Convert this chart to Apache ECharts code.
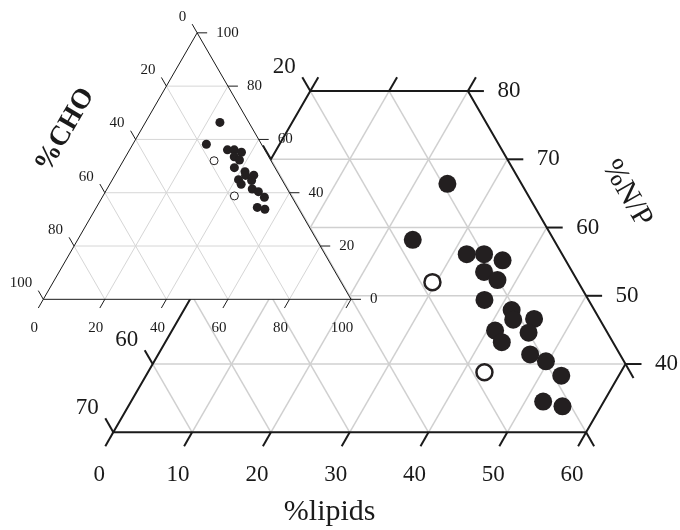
<!DOCTYPE html>
<html><head><meta charset="utf-8">
<script src="https://cdn.jsdelivr.net/npm/echarts@6/dist/echarts.min.js"></script>
<style>html,body{margin:0;padding:0;background:#fff}#c{width:680px;height:530px}</style>
</head><body><div id="c"></div>
<script>
// ---- Data: composition (%) of each sample ----
const filledLipids = [24.2, 23.9, 31.8, 34.0, 36.8, 35.3, 37.6, 37.4, 41.6, 42.5, 45.1, 41.0, 42.7, 45.4, 47.2, 49.7, 52.7, 52.3, 55.1];
const filledNP     = [66.4, 58.2, 56.1, 56.1, 55.2, 53.5, 52.3, 49.4, 47.9, 46.5, 46.6, 44.9, 43.2, 44.6, 41.4, 40.4, 38.3, 34.5, 33.8];
const filledCHO    = [ 9.4, 17.9, 12.1,  9.9,  8.0, 11.2, 10.1, 13.2, 10.5, 11.0,  8.3, 14.1, 14.1, 10.0, 11.4,  9.9,  9.0, 13.2, 11.1];
const openLipids = [29.5, 42.7];
const openNP     = [52.0, 38.8];
const openCHO    = [18.5, 18.5];

// ---- Axis ticks ----
const mainLipidTicks = [0, 10, 20, 30, 40, 50, 60];
const mainTopLipidTicks = [0, 10, 20];
const mainNPTicks = [40, 50, 60, 70, 80];
const mainCHOTicks = [20, 30, 40, 50, 60, 70];
const mainCHOLabels = [20, 60, 70];
const insetTicks = [0, 20, 40, 60, 80, 100];

const FONT = '"Liberation Serif", "DejaVu Serif", serif';
const S3 = Math.sqrt(3) / 2;
function uv(L, N) { return [L + N / 2, N * S3]; }

function mkLine(ch, a, b, style) {
  ch.push({type: 'line', shape: {x1: a[0], y1: a[1], x2: b[0], y2: b[1]}, style: style});
}
function mkText(ch, x, y, txt, size, opts) {
  opts = opts || {};
  ch.push({type: 'text', x: x, y: y, rotation: opts.rot || 0,
    style: {text: txt, fill: '#1a1a1a', font: (opts.weight || 'normal') + ' ' + size + 'px ' + FONT,
      align: opts.align || 'center', verticalAlign: 'middle'}});
}

function mainRender(params, api) {
  const P = (L, N) => api.coord(uv(L, N));
  const ch = [];
  const g = {stroke: '#d0d0d0', lineWidth: 1.5};
  for (const N of [40, 50, 60, 70]) mkLine(ch, P(0, N), P(Math.min(60, 100 - N), N), g);
  for (const L of [10, 20, 30, 40, 50]) mkLine(ch, P(L, 30), P(L, Math.min(80, 100 - L)), g);
  for (const C of [10, 20, 30, 40, 50, 60]) {
    const s = 100 - C, a = Math.max(0, s - 80), b = Math.min(60, s - 30);
    mkLine(ch, P(a, s - a), P(b, s - b), g);
  }
  ch.push({type: 'polygon', shape: {points: [P(0, 30), P(0, 80), P(20, 80), P(60, 40), P(60, 30)]},
    style: {fill: 'none', stroke: '#1a1a1a', lineWidth: 2}});
  const t = {stroke: '#1a1a1a', lineWidth: 2};
  const dx = 8, dy = 13.9;
  for (const L of mainLipidTicks) { const p = P(L, 30); mkLine(ch, p, [p[0] - dx, p[1] + dy], t);
    mkText(ch, p[0] - 14, p[1] + 43, String(L), 23); }
  for (const L of mainTopLipidTicks) { const p = P(L, 80); mkLine(ch, p, [p[0] + dx, p[1] - dy], t); }
  for (const C of mainCHOTicks) { const p = P(0, 100 - C); mkLine(ch, p, [p[0] - dx, p[1] - dy], t); }
  for (const C of mainCHOLabels) { const p = P(0, 100 - C); mkText(ch, p[0] - 26, p[1] - 24, String(C), 23); }
  for (const N of mainNPTicks) { const p = P(100 - N, N); mkLine(ch, p, [p[0] + 16, p[1]], t);
    mkText(ch, p[0] + 41, p[1], String(N), 23); }
  for (const N of [30, 40]) { const p = P(60, N); mkLine(ch, p, [p[0] + dx, p[1] + dy], t); }
  // axis titles
  const pl = P(30, 30); mkText(ch, pl[0] - 20, pl[1] + 80, '%lipids', 30);
  const pn = P(35, 65); mkText(ch, pn[0] + 100, pn[1], '%N/P', 30, {rot: -Math.PI / 3});
  return {type: 'group', children: ch};
}

function insetRender(params, api) {
  const P = (L, N) => api.coord(uv(L, N));
  const ch = [];
  ch.push({type: 'polygon', shape: {points: [P(0, 0), P(0, 100), P(100, 0)]}, style: {fill: '#fff', stroke: null}});
  const g = {stroke: '#d6d6d6', lineWidth: 1};
  for (const v of [20, 40, 60, 80]) {
    mkLine(ch, P(0, v), P(100 - v, v), g);
    mkLine(ch, P(v, 0), P(v, 100 - v), g);
    const s = 100 - v; mkLine(ch, P(0, s), P(s, 0), g);
  }
  ch.push({type: 'polygon', shape: {points: [P(0, 0), P(0, 100), P(100, 0)]},
    style: {fill: 'none', stroke: '#1a1a1a', lineWidth: 1}});
  const t = {stroke: '#1a1a1a', lineWidth: 1};
  for (const v of insetTicks) {
    let p = P(100 - v, v); mkLine(ch, p, [p[0] + 10, p[1]], t);
    mkText(ch, p[0] + 19, p[1], String(v), 15, {align: 'left'});
    p = P(0, 100 - v); mkLine(ch, p, [p[0] - 5, p[1] - 8.7], t);
    mkText(ch, p[0] - 11, p[1] - 16, String(v), 15, {align: 'right'});
    p = P(v, 0); mkLine(ch, p, [p[0] - 5, p[1] + 8.7], t);
    mkText(ch, p[0] - 9, p[1] + 29, String(v), 15);
  }
  const pc = P(0, 50); mkText(ch, pc[0] - 55, pc[1] - 36, '%CHO', 28, {rot: Math.PI / 3, weight: 'bold'});
  return {type: 'group', children: ch};
}

const filledPts = filledLipids.map((L, i) => uv(L, filledNP[i]));
const openPts = openLipids.map((L, i) => uv(L, openNP[i]));

const chart = echarts.init(document.getElementById('c'), null, {renderer: 'canvas'});
chart.setOption({
  animation: false,
  backgroundColor: '#fff',
  grid: [
    {left: 10.86, top: 6.6, width: 661.92, height: 520.08, outerBoundsMode: 'none'},
    {left: 3.3, top: 7.0, width: 387.70, height: 329.24, outerBoundsMode: 'none'}
  ],
  xAxis: [
    {gridIndex: 0, type: 'value', min: 2, max: 86, show: false},
    {gridIndex: 1, type: 'value', min: -13, max: 113, show: false}
  ],
  yAxis: [
    {gridIndex: 0, type: 'value', min: 14, max: 80, show: false},
    {gridIndex: 1, type: 'value', min: -12, max: 95, show: false}
  ],
  series: [
    {type: 'custom', xAxisIndex: 0, yAxisIndex: 0, data: [[0, 0]], renderItem: mainRender, z: 1, silent: true, clip: false},
    {type: 'scatter', xAxisIndex: 0, yAxisIndex: 0, data: filledPts, symbolSize: 18, z: 2, silent: true,
      itemStyle: {color: '#231f20', opacity: 1}},
    {type: 'scatter', xAxisIndex: 0, yAxisIndex: 0, data: openPts, symbolSize: 16, z: 2, silent: true,
      itemStyle: {color: '#fff', borderColor: '#231f20', borderWidth: 2.5, opacity: 1}},
    {type: 'custom', xAxisIndex: 1, yAxisIndex: 1, data: [[0, 0]], renderItem: insetRender, z: 10, silent: true, clip: false},
    {type: 'scatter', xAxisIndex: 1, yAxisIndex: 1, data: filledPts, symbolSize: 9, z: 11, silent: true,
      itemStyle: {color: '#231f20', opacity: 1}},
    {type: 'scatter', xAxisIndex: 1, yAxisIndex: 1, data: openPts, symbolSize: 8, z: 11, silent: true,
      itemStyle: {color: '#fff', borderColor: '#231f20', borderWidth: 1, opacity: 1}}
  ]
});
</script>
</body></html>
